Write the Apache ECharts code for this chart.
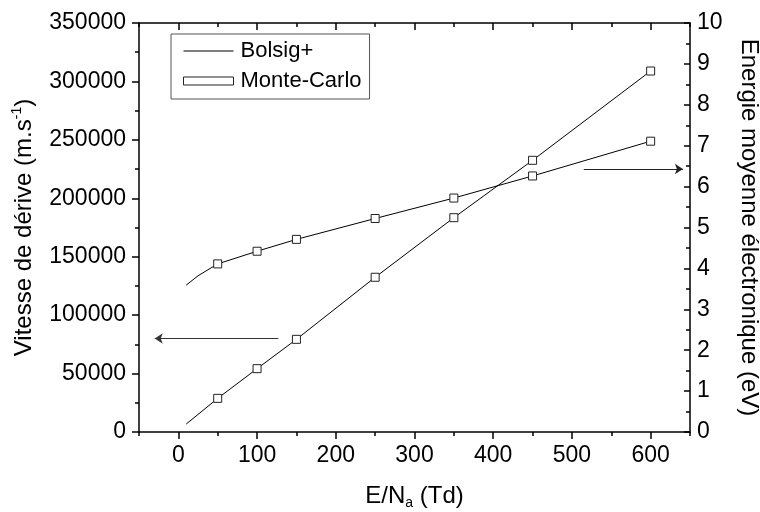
<!DOCTYPE html>
<html>
<head>
<meta charset="utf-8">
<script src="https://cdn.jsdelivr.net/npm/echarts@6/dist/echarts.min.js"></script>
<style>html,body{margin:0;padding:0;background:#fff;}#c{width:760px;height:512px;}</style>
</head>
<body>
<div id="c"></div>
<script>
// ---- data ----
const eBolsigV = [10, 50, 100, 150, 250, 350, 450, 600];
const vBolsig  = [6800, 28800, 54200, 79300, 132400, 183400, 232500, 308900];
const eBolsigW = [10, 25, 50, 100, 150, 250, 350, 450, 600];
const wBolsig  = [3.59, 3.82, 4.11, 4.42, 4.71, 5.22, 5.72, 6.26, 7.11];
const eMC = [50, 100, 150, 250, 350, 450, 600];
const vMC = [28800, 54200, 79300, 132400, 183400, 232500, 308900];
const wMC = [4.11, 4.42, 4.71, 5.22, 5.72, 6.26, 7.11];
const xMajorTicks = [0, 100, 200, 300, 400, 500, 600];
const leftArrowX = [127, -30];
const leftArrowY = 80000;
const rightArrowX = [515, 641];
const rightArrowY = 6.43;

const FONT = 'Liberation Sans, Arial, sans-serif';
const pair = (xs, ys) => xs.map((x, i) => [x, ys[i]]);
const axisLineStyle = { color: '#000', width: 1.5 };
const plain = v => String(v);

const chart = echarts.init(document.getElementById('c'), null, { renderer: 'canvas' });

const baseX = {
  type: 'value', min: -50, max: 650, interval: 50,
  splitLine: { show: false }
};

const option = {
  animation: false,
  textStyle: { fontFamily: FONT, color: '#000' },
  grid: { left: 139, right: 70, top: 23, bottom: 80, containLabel: false, outerBoundsMode: 'none' },
  legend: {
    left: 171, top: 34, orient: 'vertical',
    padding: [6, 8, 7, 12],
    borderColor: '#555', borderWidth: 1,
    itemWidth: 50, itemHeight: 8, itemGap: 8,
    symbolKeepAspect: true,
    textStyle: { fontSize: 22, fontFamily: FONT, color: '#000', lineHeight: 22, padding: [0, 0, 0, 2] },
    data: [
      { name: 'Bolsig+', icon: 'path://M0,0 H50 V1 H0 Z', itemStyle: { color: '#000', borderWidth: 0 } },
      { name: 'Monte-Carlo', icon: 'rect', itemStyle: { color: '#fff', borderColor: '#222', borderWidth: 1 } }
    ]
  },
  xAxis: [
    Object.assign({}, baseX, {
      position: 'bottom',
      axisLine: { show: true, onZero: false, lineStyle: axisLineStyle },
      axisTick: { show: true, customValues: xMajorTicks, length: 7, lineStyle: axisLineStyle },
      axisLabel: { show: true, customValues: xMajorTicks, formatter: plain, fontSize: 23, color: '#000', margin: 12, fontFamily: FONT },
      name: 'E/N{sub|a} (Td)', nameLocation: 'middle', nameGap: 50,
      nameTextStyle: { fontSize: 24, fontFamily: FONT, color: '#000', lineHeight: 28,
        rich: { sub: { fontSize: 14, verticalAlign: 'bottom', lineHeight: 28, fontFamily: FONT } } }
    }),
    Object.assign({}, baseX, {
      position: 'bottom',
      axisLine: { show: false, onZero: false },
      axisTick: { show: true, length: 4, lineStyle: axisLineStyle },
      axisLabel: { show: false }
    }),
    Object.assign({}, baseX, {
      position: 'top',
      axisLine: { show: true, onZero: false, lineStyle: axisLineStyle },
      axisTick: { show: true, inside: true, customValues: xMajorTicks, length: 7, lineStyle: axisLineStyle },
      axisLabel: { show: false }
    }),
    Object.assign({}, baseX, {
      position: 'top',
      axisLine: { show: false, onZero: false },
      axisTick: { show: true, inside: true, length: 4, lineStyle: axisLineStyle },
      axisLabel: { show: false }
    })
  ],
  yAxis: [
    {
      type: 'value', position: 'left', min: 0, max: 350000, interval: 50000,
      splitLine: { show: false },
      axisLine: { show: true, onZero: false, lineStyle: axisLineStyle },
      axisTick: { show: true, length: 7, lineStyle: axisLineStyle },
      minorTick: { show: true, splitNumber: 2, length: 4, lineStyle: axisLineStyle },
      axisLabel: { fontSize: 23, color: '#000', margin: 13, fontFamily: FONT, formatter: plain },
      name: 'Vitesse de dérive (m.s{sup|-1})', nameLocation: 'middle', nameGap: 92, nameRotate: 90,
      nameTextStyle: { fontSize: 24, fontFamily: FONT, color: '#000', lineHeight: 28,
        rich: { sup: { fontSize: 14, verticalAlign: 'top', lineHeight: 28, fontFamily: FONT } } }
    },
    {
      type: 'value', position: 'right', min: 0, max: 10, interval: 1,
      splitLine: { show: false },
      axisLine: { show: true, onZero: false, lineStyle: axisLineStyle },
      axisTick: { show: true, inside: true, length: 6, lineStyle: axisLineStyle },
      minorTick: { show: true, splitNumber: 2, length: 4, lineStyle: axisLineStyle },
      axisLabel: { fontSize: 23, color: '#000', margin: 7, fontFamily: FONT, formatter: plain },
      name: 'Energie moyenne électronique (eV)', nameLocation: 'middle', nameGap: 47, nameRotate: -90,
      nameTextStyle: { fontSize: 24, fontFamily: FONT, color: '#000' }
    }
  ],
  series: [
    {
      name: 'Bolsig+', type: 'line', xAxisIndex: 0, yAxisIndex: 0,
      data: pair(eBolsigV, vBolsig), symbol: 'none', color: '#000',
      lineStyle: { color: '#000', width: 1 }, z: 2, silent: true,
      markLine: {
        silent: true, symbol: ['none', 'arrow'], symbolSize: 8,
        label: { show: false },
        lineStyle: { color: '#333', width: 1.2, type: 'solid' },
        data: [[{ coord: [leftArrowX[0], leftArrowY] }, { coord: [leftArrowX[1], leftArrowY] }]]
      }
    },
    {
      name: 'Bolsig+', type: 'line', xAxisIndex: 0, yAxisIndex: 1,
      data: pair(eBolsigW, wBolsig), symbol: 'none', color: '#000',
      lineStyle: { color: '#000', width: 1 }, z: 2, silent: true,
      markLine: {
        silent: true, symbol: ['none', 'arrow'], symbolSize: 8,
        label: { show: false },
        lineStyle: { color: '#222', width: 1.2, type: 'solid' },
        data: [[{ coord: [rightArrowX[0], rightArrowY] }, { coord: [rightArrowX[1], rightArrowY] }]]
      }
    },
    {
      name: 'Monte-Carlo', type: 'scatter', xAxisIndex: 0, yAxisIndex: 0,
      data: pair(eMC, vMC), symbol: 'rect', symbolSize: 8, z: 3, silent: true,
      itemStyle: { color: '#fff', borderColor: '#222', borderWidth: 1, opacity: 1 }
    },
    {
      name: 'Monte-Carlo', type: 'scatter', xAxisIndex: 0, yAxisIndex: 1,
      data: pair(eMC, wMC), symbol: 'rect', symbolSize: 8, z: 3, silent: true,
      itemStyle: { color: '#fff', borderColor: '#222', borderWidth: 1, opacity: 1 }
    }
  ]
};
chart.setOption(option);
</script>
</body>
</html>
